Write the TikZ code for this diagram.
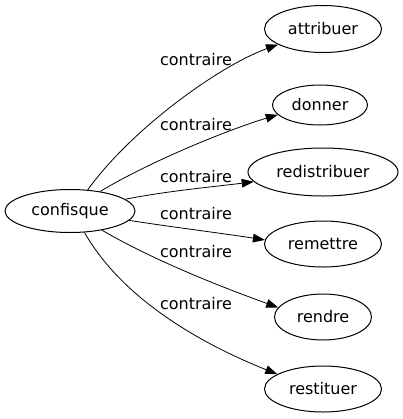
\documentclass[tikz,border=0pt]{standalone}
\usepackage{fontspec}
\setmainfont{DejaVu Sans}
\usetikzlibrary{shapes.geometric,arrows.meta}

\tikzset{every picture/.style={line width=0.75pt}}
\tikzset{
  mot/.style={draw, ellipse, inner sep=0pt, font=\fontsize{12}{14}\selectfont},
  lien/.style={draw, -{Triangle[length=9pt,width=6.5pt]}, line width=0.6pt},
  etiquette/.style={inner sep=0.75pt, font=\fontsize{12}{14}\selectfont}
}

\begin{document}
\begin{tikzpicture}[x=0.75pt,y=0.75pt,yscale=-1,xscale=1]
    \path[use as bounding box] (0,0) rectangle (403,419);

    % Source word
    \node[mot, minimum width=97.5pt, minimum height=32.25pt] (conf) at (70,211) {confisque};

    % Target words
    \node[mot, minimum width=87.75pt, minimum height=35.25pt] (attr) at (323,29) {attribuer};
    \node[mot, minimum width=71.25pt, minimum height=30pt] (donn) at (320,105) {donner};
    \node[mot, minimum width=112.5pt, minimum height=36pt] (redi) at (323,172) {redistribuer};
    \node[mot, minimum width=87.75pt, minimum height=34.5pt] (reme) at (323,244) {remettre};
    \node[mot, minimum width=72.75pt, minimum height=34.5pt] (rend) at (323,317) {rendre};
    \node[mot, minimum width=87.75pt, minimum height=34.5pt] (rest) at (323,389) {restituer};

    % Edges
    \draw[lien] (conf.50) .. controls +(43,-60) and +(-60,22) .. (attr.199);
    \draw[lien] (conf.33) .. controls +(50,-30) and +(-50,15) .. (donn.193);
    \draw[lien] (conf.12) .. controls +(40,-8) and +(-40,5) .. (redi.188);
    \draw[lien] (conf.-9) .. controls +(45,7) and +(-45,-7) .. (reme.176);
    \draw[lien] (conf.-31) .. controls +(55,32) and +(-50,-18) .. (rend.168);
    \draw[lien] (conf.-56) .. controls +(40,70) and +(-70,-28) .. (rest.162);

    % Edge labels
    \node[etiquette] (l1) at (196,60) {contraire};
    \node[etiquette] (l2) at (196,125) {contraire};
    \node[etiquette] (l3) at (196,177) {contraire};
    \node[etiquette] (l4) at (196,214) {contraire};
    \node[etiquette] (l5) at (196,252) {contraire};
    \node[etiquette] (l6) at (196,304) {contraire};

\end{tikzpicture}
\end{document}
